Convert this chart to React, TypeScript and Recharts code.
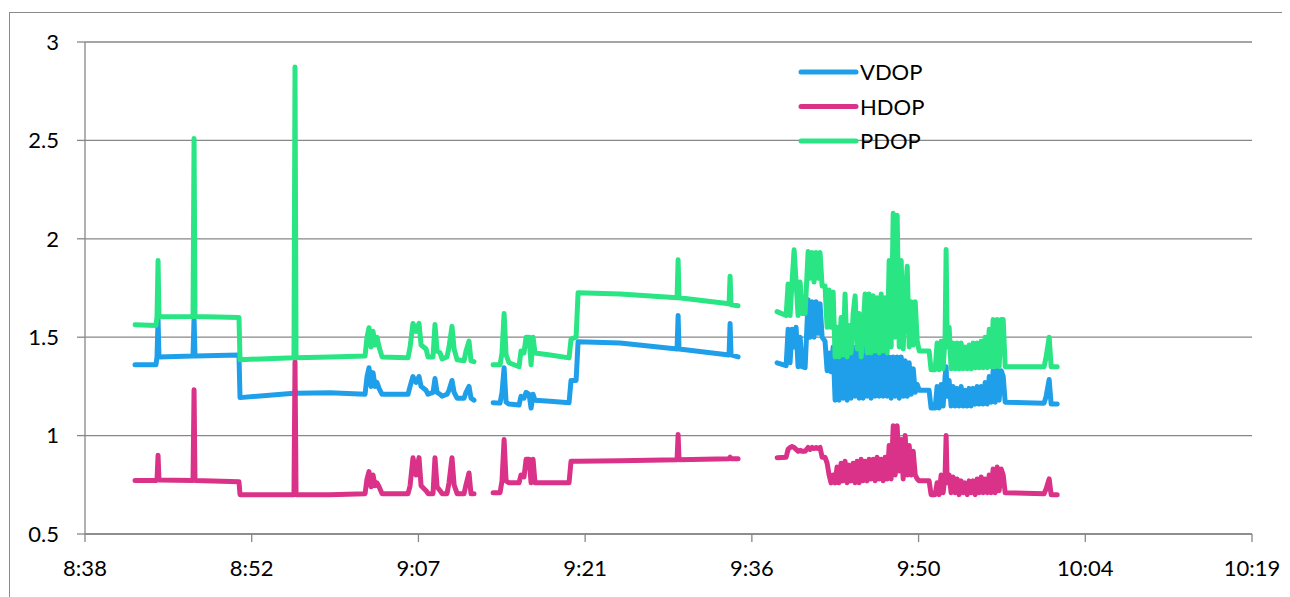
import React from 'react';
import { LineChart, Line, XAxis, YAxis, CartesianGrid, Legend } from 'recharts';

// time = minutes after 8:00, null marks a gap in the log
const times = [
  42.72, 44.53, 44.62, 44.71, 44.79, 47.73, 47.82, 47.9, 51.7, 51.79,
  56.45, 56.54, 56.63, 59.56, 62.59, 62.76, 62.93, 63.11, 63.28, 63.45,
  63.62, 63.8, 64.06, 66.3, 66.48, 66.73, 66.99, 67.25, 67.43, 67.86,
  68.03, 68.46, 68.63, 68.81, 69.07, 69.24, 69.67, 69.84, 70.1, 70.28,
  70.54, 71.14, 71.31, 71.57, 71.74, 72.0, 72.87,
  73.65, 74.25, 74.42, 74.6, 74.77, 75.03, 75.89, 76.06, 76.32, 76.5,
  76.76, 76.93, 77.1, 77.27, 78.57, 80.21, 80.38, 80.82, 80.99, 84.62,
  89.54, 89.63, 89.71, 94.03, 94.12, 94.2, 94.81, 96.54,
  98.18, 98.96, 99.13, 99.3, 99.47, 99.65, 99.82, 99.99, 100.17, 100.34,
  100.6, 100.86, 101.03, 101.2, 101.37, 101.55, 101.72, 101.89, 102.07, 102.32,
  102.5, 102.67, 102.84, 103.02, 103.19, 103.36, 103.53, 103.71, 103.88, 104.05,
  104.23, 104.4, 104.57, 104.75, 104.92, 105.09, 105.27, 105.44, 105.61, 105.78,
  105.96, 106.13, 106.3, 106.48, 106.65, 106.82, 107.0, 107.17, 107.34, 107.51,
  107.69, 107.86, 108.03, 108.21, 108.38, 108.55, 108.73, 108.9, 109.07, 109.24,
  109.42, 109.59, 109.76, 109.94, 110.11, 110.28, 110.46, 111.31, 111.48, 111.83,
  112.0, 112.17, 112.35, 112.52, 112.69, 112.78, 112.87, 113.04, 113.21, 113.38,
  113.56, 113.73, 113.9, 114.08, 114.25, 114.42, 114.6, 114.77, 114.94, 115.11,
  115.29, 115.46, 115.63, 115.81, 115.98, 116.15, 116.33, 116.5, 116.67, 116.84,
  117.02, 117.19, 117.36, 117.54, 117.71, 117.88, 121.24, 121.42, 121.68, 121.85,
  122.37,
];

const vdop = [
  1.36, 1.36, 1.4, 1.59, 1.4, 1.405, 1.6, 1.405, 1.41, 1.193,
  1.215, 1.23, 1.215, 1.218, 1.21, 1.3, 1.345, 1.25, 1.32, 1.25,
  1.27, 1.24, 1.21, 1.21, 1.25, 1.3, 1.27, 1.3, 1.25, 1.23,
  1.21, 1.22, 1.29, 1.22, 1.21, 1.2, 1.21, 1.23, 1.28, 1.22,
  1.19, 1.19, 1.22, 1.25, 1.19, 1.18, null,
  1.167, 1.165, 1.22, 1.345, 1.17, 1.16, 1.155, 1.2, 1.19, 1.22,
  1.21, 1.14, 1.21, 1.18, 1.175, 1.167, 1.28, 1.28, 1.477, 1.47,
  1.44, 1.61, 1.44, 1.41, 1.57, 1.41, 1.4, null,
  1.37, 1.355, 1.54, 1.37, 1.54, 1.45, 1.55, 1.35, 1.5, 1.35,
  1.345, 1.69, 1.5, 1.68, 1.5, 1.68, 1.52, 1.67, 1.5, 1.48,
  1.33, 1.42, 1.325, 1.45, 1.18, 1.4, 1.18, 1.44, 1.19, 1.46,
  1.18, 1.42, 1.19, 1.45, 1.2, 1.43, 1.19, 1.46, 1.19, 1.47,
  1.2, 1.46, 1.19, 1.47, 1.2, 1.46, 1.2, 1.45, 1.2, 1.44,
  1.2, 1.4, 1.19, 1.4, 1.2, 1.4, 1.19, 1.4, 1.2, 1.38,
  1.2, 1.37, 1.21, 1.34, 1.22, 1.26, 1.23, 1.23, 1.14, 1.14,
  1.25, 1.14, 1.26, 1.15, 1.3, 1.35, 1.2, 1.28, 1.15, 1.25,
  1.15, 1.24, 1.15, 1.25, 1.15, 1.23, 1.15, 1.24, 1.15, 1.24,
  1.16, 1.25, 1.16, 1.25, 1.16, 1.27, 1.16, 1.3, 1.17, 1.33,
  1.17, 1.35, 1.18, 1.33, 1.3, 1.17, 1.165, 1.2, 1.285, 1.16,
  1.16,
];

const hdop = [
  0.772, 0.772, 0.775, 0.9, 0.775, 0.772, 1.233, 0.772, 0.765, 0.7,
  0.7, 1.376, 0.7, 0.7, 0.705, 0.78, 0.817, 0.74, 0.8, 0.745,
  0.76, 0.74, 0.705, 0.705, 0.745, 0.888, 0.8, 0.888, 0.745, 0.72,
  0.705, 0.705, 0.888, 0.74, 0.72, 0.705, 0.705, 0.76, 0.888, 0.75,
  0.705, 0.705, 0.75, 0.81, 0.705, 0.705, null,
  0.71, 0.71, 0.77, 0.98, 0.77, 0.76, 0.76, 0.8, 0.79, 0.88,
  0.88, 0.76, 0.88, 0.76, 0.76, 0.76, 0.87, 0.87, 0.87, 0.872,
  0.877, 1.005, 0.877, 0.883, 0.89, 0.883, 0.883, null,
  0.888, 0.89, 0.93, 0.94, 0.945, 0.94, 0.93, 0.92, 0.925, 0.92,
  0.92, 0.94, 0.93, 0.94, 0.935, 0.94, 0.935, 0.94, 0.89, 0.89,
  0.86, 0.8, 0.76, 0.8, 0.76, 0.84, 0.76, 0.86, 0.77, 0.87,
  0.76, 0.85, 0.77, 0.86, 0.76, 0.87, 0.76, 0.88, 0.77, 0.87,
  0.77, 0.88, 0.78, 0.88, 0.77, 0.89, 0.78, 0.88, 0.77, 0.89,
  0.78, 0.95, 0.78, 1.05, 0.8, 1.05, 0.82, 0.98, 0.78, 1.0,
  0.8, 0.95, 0.8, 0.92, 0.8, 0.78, 0.77, 0.77, 0.7, 0.7,
  0.76, 0.7, 0.8, 0.71, 0.8, 1.0, 0.76, 0.8, 0.71, 0.79,
  0.71, 0.78, 0.7, 0.77, 0.71, 0.76, 0.7, 0.77, 0.71, 0.77,
  0.7, 0.78, 0.71, 0.79, 0.71, 0.78, 0.71, 0.8, 0.71, 0.83,
  0.71, 0.84, 0.72, 0.83, 0.8, 0.71, 0.705, 0.73, 0.78, 0.7,
  0.7,
];

const pdop = [
  1.563, 1.56, 1.604, 1.89, 1.604, 1.605, 2.51, 1.605, 1.6, 1.386,
  1.395, 2.873, 1.395, 1.4, 1.405, 1.5, 1.548, 1.45, 1.53, 1.46,
  1.5, 1.45, 1.4, 1.395, 1.45, 1.57, 1.53, 1.57, 1.46, 1.44,
  1.4, 1.4, 1.565, 1.43, 1.42, 1.39, 1.4, 1.45, 1.555, 1.44,
  1.385, 1.38, 1.43, 1.48, 1.38, 1.376, null,
  1.36, 1.36, 1.42, 1.62, 1.41, 1.37, 1.35, 1.43, 1.42, 1.5,
  1.5, 1.36, 1.5, 1.42, 1.41, 1.395, 1.49, 1.5, 1.726, 1.72,
  1.7, 1.893, 1.7, 1.67, 1.81, 1.665, 1.66, null,
  1.63, 1.61, 1.77, 1.61, 1.78, 1.944, 1.78, 1.61, 1.78, 1.62,
  1.62, 1.935, 1.8, 1.93, 1.78, 1.93, 1.8, 1.93, 1.76, 1.76,
  1.55, 1.74, 1.55, 1.73, 1.4, 1.55, 1.4, 1.6, 1.41, 1.72,
  1.4, 1.56, 1.42, 1.62, 1.71, 1.44, 1.62, 1.4, 1.55, 1.72,
  1.42, 1.72, 1.42, 1.71, 1.43, 1.7, 1.42, 1.72, 1.43, 1.7,
  1.42, 1.89, 1.45, 2.13, 1.5, 2.12, 1.45, 1.89, 1.44, 1.7,
  1.86, 1.45, 1.68, 1.46, 1.68, 1.48, 1.43, 1.43, 1.335, 1.335,
  1.47, 1.335, 1.48, 1.34, 1.5, 1.945, 1.45, 1.55, 1.34, 1.47,
  1.34, 1.47, 1.34, 1.47, 1.34, 1.45, 1.34, 1.46, 1.34, 1.47,
  1.345, 1.47, 1.345, 1.48, 1.345, 1.5, 1.345, 1.54, 1.35, 1.59,
  1.35, 1.59, 1.35, 1.59, 1.59, 1.35, 1.35, 1.4, 1.5, 1.35,
  1.35,
];

const xTicks = [38.4, 52.8, 67.2, 81.6, 96, 110.4, 124.8, 139.2];
const xTickLabels = ['8:38', '8:52', '9:07', '9:21', '9:36', '9:50', '10:04', '10:19'];
const yTicks = [0.5, 1, 1.5, 2, 2.5, 3];

const series = [
  { key: 'vdop', name: 'VDOP', color: '#1f9fe9' },
  { key: 'hdop', name: 'HDOP', color: '#da3289' },
  { key: 'pdop', name: 'PDOP', color: '#29e583' },
];

const data = times.map((t, i) => ({ t, vdop: vdop[i], hdop: hdop[i], pdop: pdop[i] }));

const font = 'Lato, "Open Sans", sans-serif';
const axisGray = '#878787';

const LegendBox = () => (
  <svg width={140} height={105} style={{ display: 'block', overflow: 'visible' }}>
    {series.map((s, i) => {
      const y = 17 + i * 34.5;
      return (
        <g key={s.key}>
          <line x1={3} x2={58} y1={y} y2={y} stroke={s.color} strokeWidth={5} strokeLinecap="round" />
          <text x={62} y={y + 8} fontFamily={font} fontSize={22} fill="#000">{s.name}</text>
        </g>
      );
    })}
  </svg>
);

const App: React.FC = () => {
  return (
    <div style={{ position: 'relative', width: 1282, height: 589 }}>
      <div
        style={{
          position: 'absolute',
          left: 1,
          top: 4,
          width: 1278,
          height: 640,
          border: '1px solid #8a8a8a',
          boxSizing: 'border-box',
        }}
      />
      <LineChart width={1282} height={589} data={data} margin={{ top: 34, right: 38, left: 0, bottom: 33 }}>
        <CartesianGrid vertical={false} stroke={axisGray} strokeWidth={1.3} />
        <XAxis
          type="number"
          dataKey="t"
          domain={[38.4, 139.2]}
          ticks={xTicks}
          interval={0}
          allowDataOverflow
          height={30}
          tickSize={8}
          tickMargin={18}
          tickFormatter={(v, i) => xTickLabels[i] ?? ''}
          tick={{ fontFamily: font, fontSize: 22, fill: '#000' }}
          axisLine={{ stroke: axisGray, strokeWidth: 1.3 }}
          tickLine={{ stroke: axisGray, strokeWidth: 1.3 }}
        />
        <YAxis
          type="number"
          domain={[0.5, 3]}
          ticks={yTicks}
          interval={0}
          width={77}
          tickSize={8}
          tickMargin={18}
          tickFormatter={(v) => String(v)}
          tick={{ fontFamily: font, fontSize: 22, fill: '#000' }}
          axisLine={{ stroke: axisGray, strokeWidth: 1.3 }}
          tickLine={{ stroke: axisGray, strokeWidth: 1.3 }}
        />
        <Legend
          layout="vertical"
          align="center"
          verticalAlign="middle"
          content={() => <LegendBox />}
          wrapperStyle={{ position: 'absolute', left: 790, top: 47, width: 140, height: 105 }}
        />
        {series.map((s) => (
          <Line
            key={s.key}
            type="linear"
            dataKey={s.key}
            name={s.name}
            stroke={s.color}
            strokeWidth={5}
            strokeLinecap="round"
            strokeLinejoin="round"
            dot={false}
            activeDot={false}
            connectNulls={false}
            isAnimationActive={false}
          />
        ))}
      </LineChart>
    </div>
  );
};

export default App;
